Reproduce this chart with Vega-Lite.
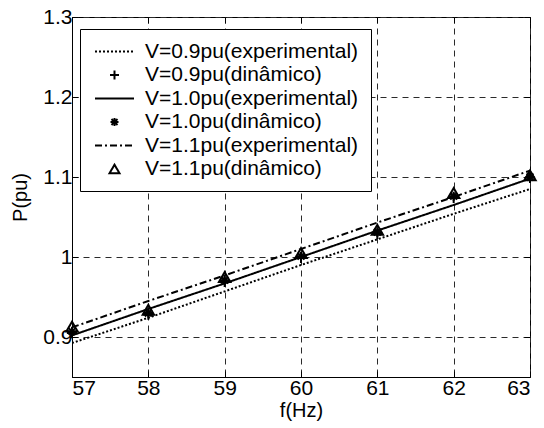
{
  "$schema": "https://vega.github.io/schema/vega-lite/v6.json",
  "width": 458,
  "height": 360,
  "autosize": "none",
  "padding": {"left": 72, "top": 17, "right": 14, "bottom": 51},
  "background": "white",
  "data": {
    "values": [
      {"f": 57, "P": 0.8925, "series": "V=0.9pu(experimental)"},
      {"f": 58, "P": 0.924, "series": "V=0.9pu(experimental)"},
      {"f": 59, "P": 0.957, "series": "V=0.9pu(experimental)"},
      {"f": 60, "P": 0.990, "series": "V=0.9pu(experimental)"},
      {"f": 61, "P": 1.022, "series": "V=0.9pu(experimental)"},
      {"f": 62, "P": 1.054, "series": "V=0.9pu(experimental)"},
      {"f": 63, "P": 1.085, "series": "V=0.9pu(experimental)"},
      {"f": 57, "P": 0.902, "series": "V=1.0pu(experimental)"},
      {"f": 58, "P": 0.935, "series": "V=1.0pu(experimental)"},
      {"f": 59, "P": 0.967, "series": "V=1.0pu(experimental)"},
      {"f": 60, "P": 1.000, "series": "V=1.0pu(experimental)"},
      {"f": 61, "P": 1.033, "series": "V=1.0pu(experimental)"},
      {"f": 62, "P": 1.065, "series": "V=1.0pu(experimental)"},
      {"f": 63, "P": 1.098, "series": "V=1.0pu(experimental)"},
      {"f": 57, "P": 0.912, "series": "V=1.1pu(experimental)"},
      {"f": 58, "P": 0.945, "series": "V=1.1pu(experimental)"},
      {"f": 59, "P": 0.977, "series": "V=1.1pu(experimental)"},
      {"f": 60, "P": 1.010, "series": "V=1.1pu(experimental)"},
      {"f": 61, "P": 1.043, "series": "V=1.1pu(experimental)"},
      {"f": 62, "P": 1.075, "series": "V=1.1pu(experimental)"},
      {"f": 63, "P": 1.108, "series": "V=1.1pu(experimental)"},
      {"f": 57, "P": 0.905, "series": "V=0.9pu(dinâmico)"},
      {"f": 58, "P": 0.928, "series": "V=0.9pu(dinâmico)"},
      {"f": 59, "P": 0.969, "series": "V=0.9pu(dinâmico)"},
      {"f": 60, "P": 0.999, "series": "V=0.9pu(dinâmico)"},
      {"f": 61, "P": 1.029, "series": "V=0.9pu(dinâmico)"},
      {"f": 62, "P": 1.074, "series": "V=0.9pu(dinâmico)"},
      {"f": 63, "P": 1.099, "series": "V=0.9pu(dinâmico)"},
      {"f": 57, "P": 0.907, "series": "V=1.0pu(dinâmico)"},
      {"f": 58, "P": 0.930, "series": "V=1.0pu(dinâmico)"},
      {"f": 59, "P": 0.971, "series": "V=1.0pu(dinâmico)"},
      {"f": 60, "P": 1.001, "series": "V=1.0pu(dinâmico)"},
      {"f": 61, "P": 1.031, "series": "V=1.0pu(dinâmico)"},
      {"f": 62, "P": 1.076, "series": "V=1.0pu(dinâmico)"},
      {"f": 63, "P": 1.100, "series": "V=1.0pu(dinâmico)"},
      {"f": 57, "P": 0.913, "series": "V=1.1pu(dinâmico)"},
      {"f": 58, "P": 0.934, "series": "V=1.1pu(dinâmico)"},
      {"f": 59, "P": 0.975, "series": "V=1.1pu(dinâmico)"},
      {"f": 60, "P": 1.005, "series": "V=1.1pu(dinâmico)"},
      {"f": 61, "P": 1.034, "series": "V=1.1pu(dinâmico)"},
      {"f": 62, "P": 1.080, "series": "V=1.1pu(dinâmico)"},
      {"f": 63, "P": 1.102, "series": "V=1.1pu(dinâmico)"}
    ]
  },
  "layer": [
    {
      "transform": [{"filter": "indexof(datum.series, 'experimental') >= 0"}],
      "mark": {"type": "line", "color": "black", "strokeWidth": 2, "clip": true},
      "encoding": {
        "x": {"field": "f", "type": "quantitative",
          "scale": {"domain": [57, 63], "nice": false, "zero": false},
          "axis": {"orient": "bottom", "title": "f(Hz)", "values": [57, 58, 59, 60, 61, 62, 63], "format": "d", "grid": true}},
        "y": {"field": "P", "type": "quantitative",
          "scale": {"domain": [0.85, 1.3], "nice": false, "zero": false},
          "axis": {"orient": "left", "title": "P(pu)", "values": [0.9, 1.0, 1.1, 1.2, 1.3], "format": ".2~f", "grid": true, "titlePadding": 12}},
        "strokeDash": {"field": "series", "type": "nominal",
          "scale": {
            "domain": ["V=0.9pu(experimental)", "V=0.9pu(dinâmico)", "V=1.0pu(experimental)", "V=1.0pu(dinâmico)", "V=1.1pu(experimental)", "V=1.1pu(dinâmico)"],
            "range": [[2, 2], [1, 0], [1, 0], [1, 0], [7, 3, 2, 3], [1, 0]]
          }},
        "detail": {"field": "series"}
      }
    },
    {
      "transform": [{"filter": "indexof(datum.series, 'dinâmico') >= 0"}],
      "mark": {"type": "point", "filled": false, "color": "black", "opacity": 1, "strokeWidth": 2, "size": 130},
      "encoding": {
        "x": {"field": "f", "type": "quantitative", "axis": null},
        "y": {"field": "P", "type": "quantitative", "axis": null},
        "shape": {"field": "series", "type": "nominal",
          "scale": {
            "domain": ["V=0.9pu(experimental)", "V=0.9pu(dinâmico)", "V=1.0pu(experimental)", "V=1.0pu(dinâmico)", "V=1.1pu(experimental)", "V=1.1pu(dinâmico)"],
            "range": ["M-3.9,0H3.9", "M-0.9,0H0.9M0,-0.9V0.9", "M-3.9,0H3.9", "M-0.8,0H0.8M0,-0.8V0.8M-0.6,-0.6L0.6,0.6M-0.6,0.6L0.6,-0.6", "M-3.9,0H3.9", "triangle-up"]
          }},
        "strokeDash": {"field": "series", "type": "nominal"}
      }
    },
    {
      "mark": {"type": "point", "opacity": 0},
      "encoding": {
        "x": {"field": "f", "type": "quantitative",
          "axis": {"orient": "top", "labels": false, "title": null, "grid": false, "domain": false, "values": [57, 58, 59, 60, 61, 62, 63]}},
        "y": {"field": "P", "type": "quantitative",
          "axis": {"orient": "right", "labels": false, "title": null, "grid": false, "domain": false, "values": [0.9, 1.0, 1.1, 1.2, 1.3]}}
      }
    }
  ],
  "resolve": {"axis": {"x": "independent", "y": "independent"}},
  "config": {
    "font": "Liberation Sans",
    "view": {"stroke": "black", "strokeWidth": 1},
    "axis": {
      "domainColor": "black",
      "domainWidth": 1,
      "tickColor": "black",
      "tickSize": -6,
      "tickWidth": 1,
      "gridColor": "#2a2a2a",
      "gridDash": [6, 5],
      "gridWidth": 1,
      "gridOpacity": 1,
      "labelFont": "Liberation Sans",
      "labelFontSize": 21,
      "labelColor": "black",
      "labelPadding": 6,
      "titleFont": "Liberation Sans",
      "titleFontSize": 20,
      "titleFontWeight": "normal",
      "titleColor": "black",
      "titlePadding": 2
    },
    "legend": {
      "title": null,
      "orient": "none",
      "legendX": 8,
      "legendY": 12,
      "strokeColor": "black",
      "fillColor": "white",
      "padding": 12,
      "labelFont": "Liberation Sans",
      "labelFontSize": 21,
      "labelColor": "black",
      "labelLimit": 400,
      "symbolSize": 100,
      "symbolStrokeColor": "black",
      "symbolStrokeWidth": 2,
      "symbolOffset": 12,
      "labelOffset": 20,
      "rowPadding": 1.5
    }
  }
}
